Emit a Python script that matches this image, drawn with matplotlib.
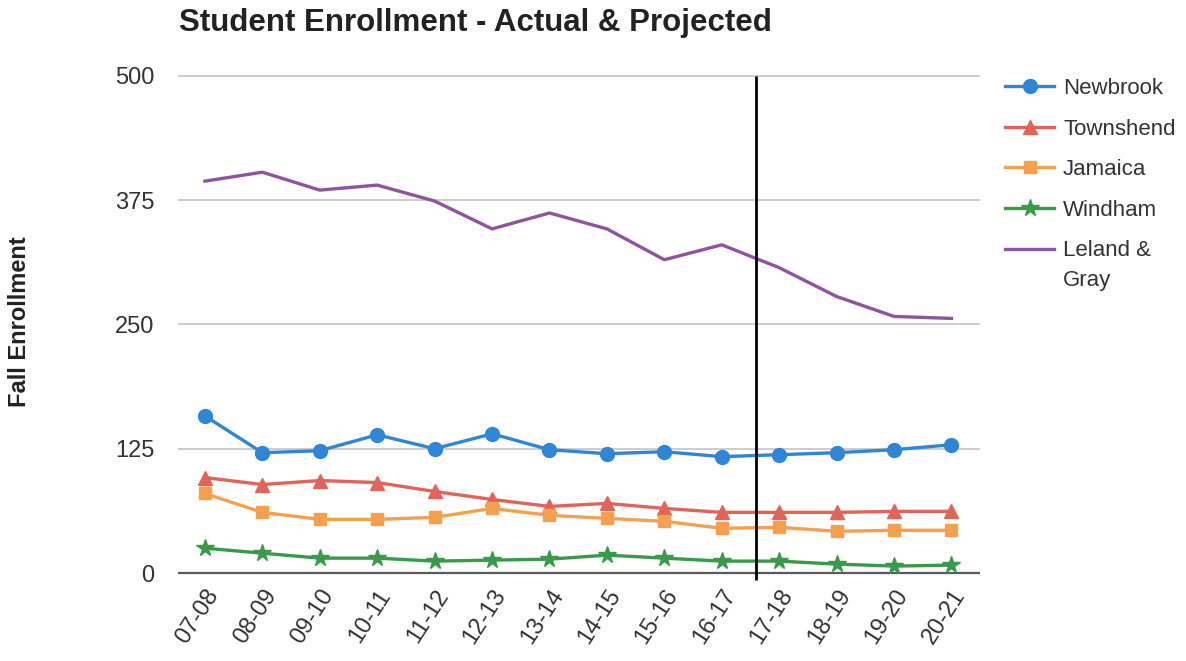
import numpy as np
import matplotlib.pyplot as plt

plt.rcParams['font.family'] = ['Liberation Sans', 'DejaVu Sans']

# ---------------------------------------------------------------------------
# data
# ---------------------------------------------------------------------------
years = ['07-08', '08-09', '09-10', '10-11', '11-12', '12-13', '13-14',
         '14-15', '15-16', '16-17', '17-18', '18-19', '19-20', '20-21']

newbrook = [158, 121, 123, 139, 125, 140, 124, 120, 122, 117, 119, 121, 124, 129]
townshend = [96, 89, 93, 91, 82, 74, 67, 70, 65, 61, 61, 61, 62, 62]
jamaica = [80, 61, 54, 54, 56, 65, 58, 55, 52, 45, 46, 42, 43, 43]
windham = [25, 20, 15, 15, 12, 13, 14, 18, 15, 12, 12, 9, 7, 8]
leland_gray = [394, 403, 385, 390, 374, 346, 362, 346, 315, 330, 307, 278, 258, 256]

yticks = [0, 125, 250, 375, 500]
projection_start = 9.6  # actual / projected divider

series = [
    ('Newbrook', newbrook, '#2f86d6', 'o', 10),
    ('Townshend', townshend, '#e0645a', '^', 10),
    ('Jamaica', jamaica, '#f5a04f', 's', 9),
    ('Windham', windham, '#3a9a4c', '*', 13),
    ('Leland &', leland_gray, '#8e559c', None, 0),
]

fig = plt.figure(figsize=(11.86, 6.61), dpi=100)
ax = fig.add_axes([0.150, 0.121, 0.676, 0.772])

x = np.arange(len(years))
for name, vals, color, marker, ms in series:
    ax.plot(x, vals, color=color, lw=2.4, marker=marker, markersize=ms,
            label=name, zorder=3)

# grid + zero line
for t in yticks[1:]:
    ax.axhline(t, color='#c9c9c9', lw=1.3, zorder=1)
ax.axhline(0, color='#5a5a5a', lw=1.6, zorder=2)

ax.vlines(projection_start, -7, 500, color='black', lw=2, zorder=4)

ax.set_xlim(-0.47, 13.49)
ax.set_ylim(-8, 505)
for s in ax.spines.values():
    s.set_visible(False)

ax.set_yticks(yticks)
ax.set_yticklabels([str(t) for t in yticks], fontsize=17, color='#333333')
ax.tick_params(axis='y', length=0, pad=17)
ax.set_xticks(x)
ax.set_xticklabels(years, rotation=57, ha='right', va='top',
                   rotation_mode='anchor', fontsize=17, color='#333333')
ax.tick_params(axis='x', length=0, pad=3)

fig.text(0.0165, 0.514, 'Fall Enrollment', rotation=90, ha='center', va='center',
         fontsize=17, fontweight='bold', color='#222222')
fig.text(0.151, 0.965, 'Student Enrollment - Actual & Projected', ha='left',
         va='center', fontsize=22.5, fontweight='bold', color='#222222')

leg = ax.legend(loc='upper left', bbox_to_anchor=(1.021, 1.003), frameon=False,
                fontsize=16, labelspacing=0.88, handlelength=2.2,
                handletextpad=0.4, borderaxespad=0.0, labelcolor='#333333')

# second line of the last legend label, set a bit lower like the original
fig.canvas.draw()
bb = leg.get_texts()[-1].get_window_extent()
fig.text(bb.x0 / fig.bbox.width, (bb.y0 - 30) / fig.bbox.height, 'Gray',
         fontsize=16, color='#333333', ha='left', va='bottom')

plt.savefig('out.png', dpi=100)
